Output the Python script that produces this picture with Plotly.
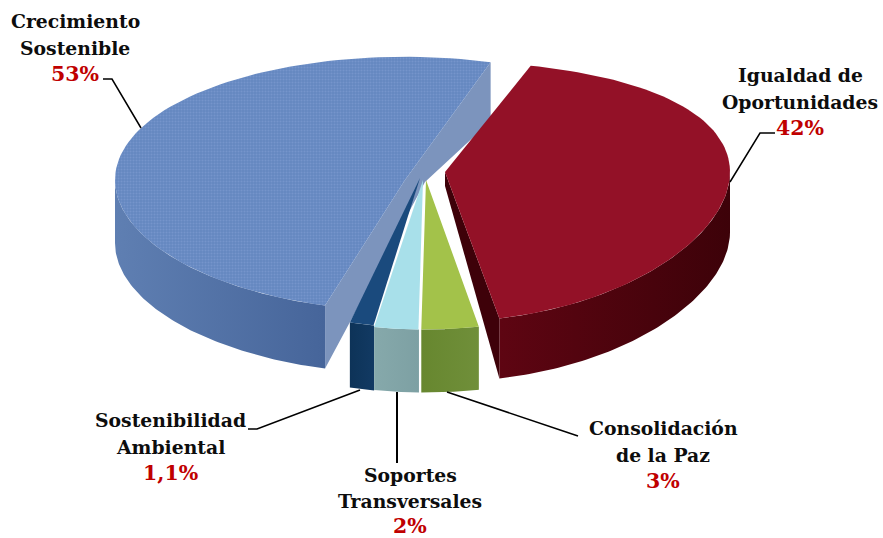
import numpy as np
import plotly.graph_objects as go

# ---- data ----
categories = ["Crecimiento Sostenible", "Igualdad de Oportunidades", "Consolidación de la Paz",
              "Soportes Transversales", "Sostenibilidad Ambiental"]
label_lines = [["Crecimiento", "Sostenible"], ["Igualdad de", "Oportunidades"], ["Consolidación", "de la Paz"],
               ["Soportes", "Transversales"], ["Sostenibilidad", "Ambiental"]]
values = [53, 42, 3, 2, 1.1]
value_labels = ["53%", "42%", "3%", "2%", "1,1%"]

# ---- styling / layout of each exploded slice (pixel space of the chart) ----
W, H = 883, 538
TOTAL = sum(values)
style = [
    dict(start=106, spread=0.96, c=(405, 180), base=(425, 182), k=0.03, rx=290, ry=127, depth=63,
         top="#6487c0", wall=("#5f7fb2", "#46659a"), cut="#7c94bd"),
    dict(start=-72.5, spread=1.013, c=(445, 172), base=(445, 186), k=0.15, rx=285, ry=130, depth=60,
         top="#931127", wall=("#5e0512", "#3d0209"), cut="#3e0109"),
    dict(start=79.5, spread=1.07, c=(426, 180), base=None, k=0.15, rx=290, ry=130, depth=63,
         top="#a3c24a", wall=("#67872f", "#708f3a"), cut=None),
    dict(start=90.8, spread=1.25, c=(423, 180), base=None, k=0.15, rx=290, ry=130, depth=63,
         top="#a8e0ea", wall=("#86a9ab", "#7da0a3"), cut=None),
    dict(start=99.1, spread=1.25, c=(420, 178), base=None, k=0.15, rx=290, ry=130, depth=65,
         top="#1a4a7d", wall=("#0d3358", "#123a63"), cut=None),
]
label_pos = [(75, 21), (800, 75), (663, 428), (410, 475), (170, 420)]
line_step = [26.5, 26.5, 26.5, 25.5, 26.5]
leaders = [
    ([103, 112, 141], [79, 79, 128], 1.5),
    ([775, 760, 730], [133, 133, 182], 1.5),
    ([578, 447], [436, 392], 1.5),
    ([397, 397], [392, 463], 2),
    ([360, 257, 248], [390, 429, 429], 1.5),
]


def arc(st, t0, t1, dy=0):
    t = np.radians(np.linspace(t0, t1, 90))
    y = np.sin(t)
    return st["c"][0] + st["rx"] * np.cos(t), st["c"][1] + dy + y * st["ry"] * (1 + st["k"] * y)


def poly(xs, ys, color=None, gradient=None, pattern=None):
    kw = {}
    if gradient:
        kw["fillgradient"] = dict(type="horizontal", colorscale=[[0, gradient[0]], [1, gradient[1]]])
    elif pattern:
        kw["fillpattern"] = pattern
        kw["fillcolor"] = color
    else:
        kw["fillcolor"] = color
    return go.Scatter(x=np.append(xs, xs[0]), y=np.append(ys, ys[0]), mode="lines", fill="toself",
                      line=dict(width=0), hoverinfo="skip", showlegend=False, **kw)


def slice_traces(i):
    st = style[i]
    sweep = values[i] / TOTAL * 360 * st["spread"]
    t0, t1 = st["start"], st["start"] + sweep
    ax, ay = st["c"]
    traces = []
    # outer wall: only the part facing the viewer (angles between 0 and 180 degrees)
    w0, w1 = max(t0, 0), min(t1, 180)
    xa, ya = arc(st, w0, w1)
    xb, yb = arc(st, w0, w1, st["depth"])
    traces.append(poly(np.r_[xa, xb[::-1]], np.r_[ya, yb[::-1]], gradient=st["wall"]))
    # cut faces
    if st["cut"]:
        bx, by = st["base"]
        xs, ys = arc(st, t0, t1)
        if i == 0:
            fx = [xs[0], xs[0], bx, xs[-1], xs[-1], ax]
            fy = [ys[0], ys[0] + st["depth"], by, ys[-1] + st["depth"] - 4, ys[-1], ay]
        else:
            fx = [ax, bx, xs[-1], xs[-1]]
            fy = [ay, by, ys[-1] + st["depth"], ys[-1]]
        traces.append(poly(np.array(fx), np.array(fy), color=st["cut"]))
    # top face
    xt, yt = arc(st, t0, t1)
    pattern = None
    if i == 0:
        pattern = dict(shape=".", fgcolor="#86a4d6", fgopacity=0.5, bgcolor=st["top"], size=3, solidity=0.35)
    traces.append(poly(np.r_[ax, xt], np.r_[ay, yt], color=st["top"], pattern=pattern))
    return traces


fig = go.Figure()
for i in [0, 4, 3, 2, 1]:
    for tr in slice_traces(i):
        fig.add_trace(tr)

for xs, ys, w in leaders:
    fig.add_trace(go.Scatter(x=xs, y=ys, mode="lines", line=dict(color="black", width=w),
                             hoverinfo="skip", showlegend=False))

annotations = []
font_family = "DejaVu Serif"
for lines, val, (x, y), step in zip(label_lines, value_labels, label_pos, line_step):
    for j, t in enumerate(lines):
        annotations.append(dict(x=x, y=y + j * step, text=f"<b>{t}</b>", showarrow=False,
                                xref="x", yref="y", font=dict(family=font_family, size=18.8, color="#0d0d0d")))
    annotations.append(dict(x=x, y=y + len(lines) * step, text=f"<b>{val}</b>", showarrow=False,
                            xref="x", yref="y", font=dict(family=font_family, size=20.5, color="#c00000")))

fig.update_layout(
    width=W, height=H, margin=dict(l=0, r=0, t=0, b=0),
    paper_bgcolor="white", plot_bgcolor="white", showlegend=False,
    xaxis=dict(range=[0, W], visible=False, fixedrange=True),
    yaxis=dict(range=[H, 0], visible=False, fixedrange=True),
    annotations=annotations,
)
fig.write_html("out.html", config={"displayModeBar": False},
               post_script="document.body.style.margin='0';document.body.style.overflow='hidden';")
